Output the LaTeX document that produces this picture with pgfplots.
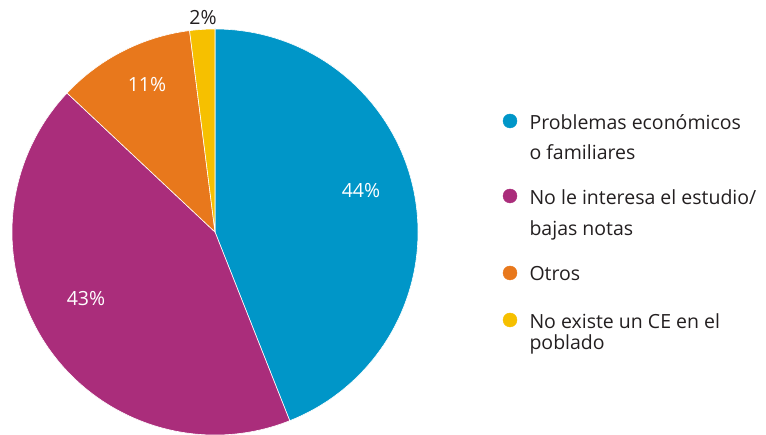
\documentclass[border=0pt]{standalone}
\usepackage{pgfplots}
\pgfplotsset{compat=1.18}
\usepackage{fontspec}
\setmainfont{Open Sans}
\definecolor{cblue}{HTML}{0096C8}
\definecolor{cpurple}{HTML}{AA2D7B}
\definecolor{corange}{HTML}{E8781C}
\definecolor{cyellow}{HTML}{F6C000}
\definecolor{ctext}{HTML}{231F20}
\begin{document}
\begin{tikzpicture}
\useasboundingbox (0,0) rectangle (766pt,435pt);
\begin{axis}[
  at={(0,0)}, anchor=south west,
  scale only axis, width=766pt, height=435pt,
  xmin=0, xmax=766, ymin=0, ymax=435,
  hide axis, clip=false,
]
% pie slices: percentages, clockwise from top
\pgfplotsextra{
  \gdef\pieS{90}
  \foreach \v/\c in {44/cblue,43/cpurple,11/corange,2/cyellow}{
    \pgfmathsetmacro\pieE{\pieS-3.6*\v}
    \fill[\c, draw=white, line width=0.6pt] (axis cs:215,203) -- ++(\pieS:203pt)
      arc[start angle=\pieS, end angle=\pieE, radius=203pt] -- cycle;
    \xdef\pieS{\pieE}
  }
}
\node[white, font=\fontsize{19.5}{22}\selectfont] at (axis cs:361,244) {44\%};
\node[white, font=\fontsize{19.5}{22}\selectfont] at (axis cs:86,136) {43\%};
\node[white, font=\fontsize{19.5}{22}\selectfont] at (axis cs:147,350) {11\%};
\node[ctext, font=\fontsize{19.5}{22}\selectfont] at (axis cs:203,417) {2\%};
% legend markers
\addplot[only marks, mark=*, mark size=7pt, color=cblue] coordinates {(510,314)};
\addplot[only marks, mark=*, mark size=7pt, color=cpurple] coordinates {(510,239)};
\addplot[only marks, mark=*, mark size=7pt, color=corange] coordinates {(510,162)};
\addplot[only marks, mark=*, mark size=7pt, color=cyellow] coordinates {(510,115)};
\node[ctext, anchor=west, font=\fontsize{19.5}{22}\selectfont] at (axis cs:526,313) {Problemas económicos};
\node[ctext, anchor=west, font=\fontsize{19.5}{22}\selectfont] at (axis cs:526,283) {o familiares};
\node[ctext, anchor=west, font=\fontsize{19.5}{22}\selectfont] at (axis cs:526,238) {No le interesa el estudio/};
\node[ctext, anchor=west, font=\fontsize{19.5}{22}\selectfont] at (axis cs:526,205) {bajas notas};
\node[ctext, anchor=west, font=\fontsize{19.5}{22}\selectfont] at (axis cs:526,161) {Otros};
\node[ctext, anchor=west, font=\fontsize{19.5}{22}\selectfont] at (axis cs:526,114) {No existe un CE en el};
\node[ctext, anchor=west, font=\fontsize{19.5}{22}\selectfont] at (axis cs:526,91) {poblado};
\end{axis}
\end{tikzpicture}
\end{document}
